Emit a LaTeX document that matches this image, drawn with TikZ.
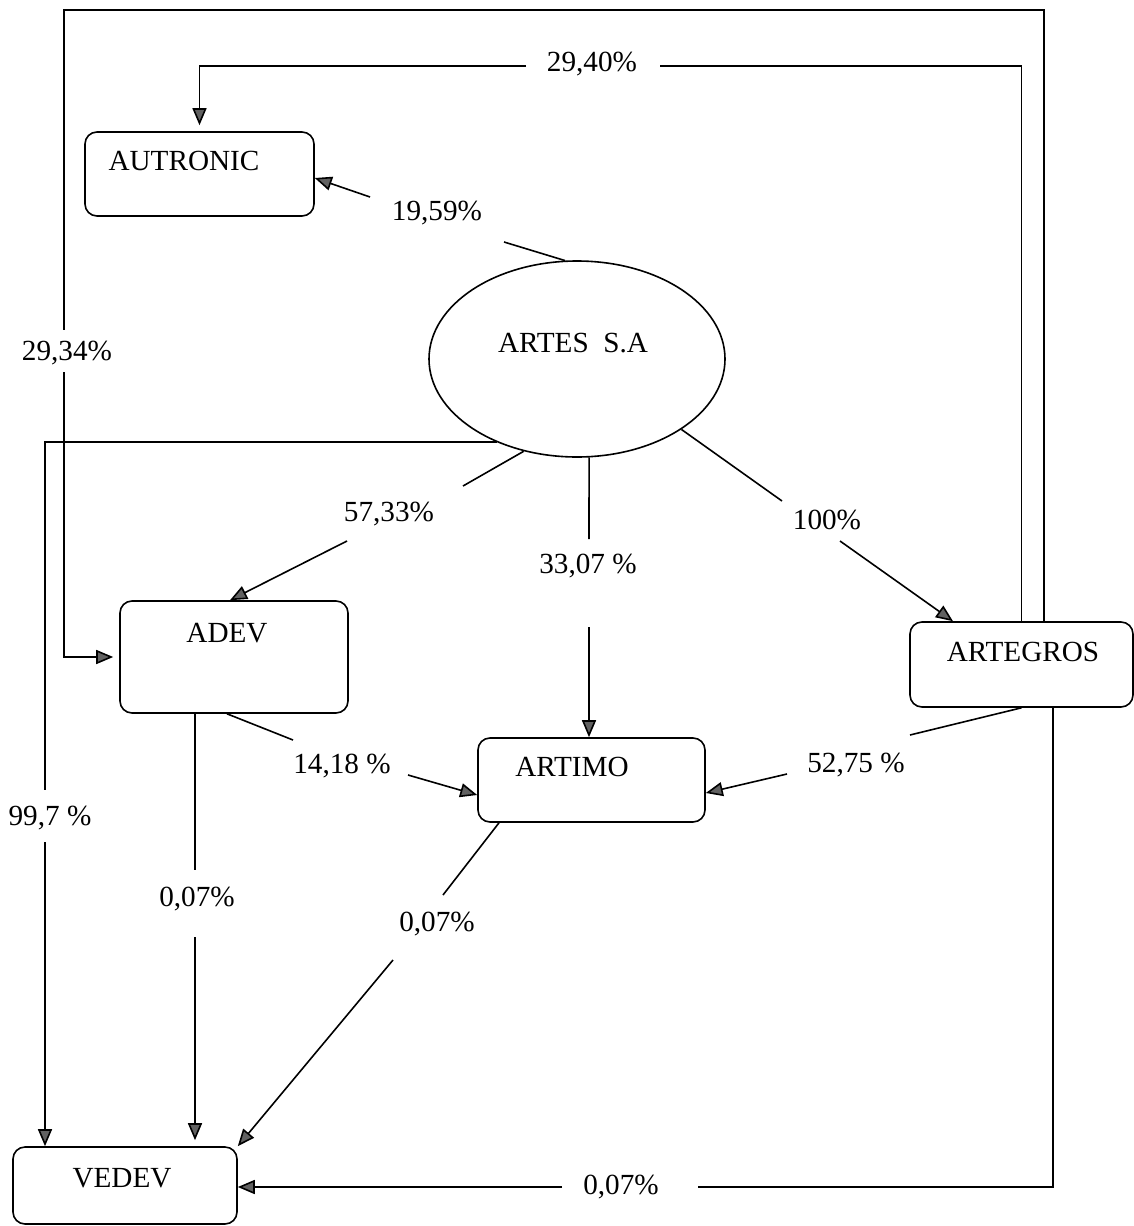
\documentclass[tikz,border=0pt]{standalone}
\usepackage{fontspec}
\setmainfont{Liberation Serif}
\usetikzlibrary{shapes.geometric,arrows.meta,calc}
\begin{document}
\begin{tikzpicture}[x=0.5pt,y=-0.5pt,line width=0.8pt,
  box/.style={draw,rounded corners=6pt,inner sep=0pt},
  txt/.style={font=\fontsize{14.6}{17}\selectfont,inner sep=0pt,text height=9.9pt,text depth=0pt},
  arr/.style={-{Triangle[length=8.5pt,width=7pt,fill=black!62]}}
]
\useasboundingbox (0,0) rectangle (1134,1226);

% entities
\node[box,minimum width=114.5pt,minimum height=42pt] (autronic) at (199.5,174) {};
\node[txt] (autronicT) at (184,161) {AUTRONIC};
\node[draw,ellipse,minimum width=148pt,minimum height=98pt,inner sep=0pt] (artes) at (577,359) {};
\node[txt] (artesT) at (573,343) {ARTES\ \ S.A};
\node[box,minimum width=114pt,minimum height=56pt] (adev) at (234,657) {};
\node[txt] (adevT) at (227,633) {ADEV};
\node[box,minimum width=113.5pt,minimum height=42pt] (artimo) at (591.5,780) {};
\node[txt] (artimoT) at (572,767) {ARTIMO};
\node[box,minimum width=111.5pt,minimum height=42.5pt] (artegros) at (1021.5,664.5) {};
\node[txt] (artegrosT) at (1023,652) {ARTEGROS};
\node[box,minimum width=112pt,minimum height=38.5pt] (vedev) at (125,1185.5) {};
\node[txt] (vedevT) at (122,1178) {VEDEV};

% labels
\node[txt] (l2940) at (592,62) {29,40\%};
\node[txt] (l2934) at (67,351) {29,34\%};
\node[txt] (l1959) at (437,211) {19,59\%};
\node[txt] (l5733) at (389,512) {57,33\%};
\node[txt] (l3307) at (588,564) {33,07 \%};
\node[txt] (l100) at (827,520) {100\%};
\node[txt] (l997) at (50,816) {99,7 \%};
\node[txt] (l1418) at (342,764) {14,18 \%};
\node[txt] (l5275) at (856,763) {52,75 \%};
\node[txt] (l007a) at (197,897) {0,07\%};
\node[txt] (l007b) at (437,922) {0,07\%};
\node[txt] (l007c) at (621,1185) {0,07\%};

% free ends and bends
\coordinate (c2940r) at (660,66);
\coordinate (c2940l) at (526,66);
\coordinate (tr) at (1044,10);
\coordinate (tl) at (64,10);
\coordinate (c2934a) at (64,330);
\coordinate (c2934b) at (64,372);
\coordinate (c1959a) at (504,242);
\coordinate (c1959b) at (370,197);
\coordinate (c5733a) at (463,486);
\coordinate (c5733b) at (347,541);
\coordinate (c3307a) at (589,539);
\coordinate (c3307b) at (589,627);
\coordinate (c100a) at (782,501);
\coordinate (c100b) at (840,541);
\coordinate (c997a) at (45,790);
\coordinate (c997b) at (45,842);
\coordinate (c007aa) at (195,870);
\coordinate (c007ab) at (195,937);
\coordinate (c1418a) at (293,740);
\coordinate (c1418b) at (408,775);
\coordinate (c5275a) at (910,735);
\coordinate (c5275b) at (787,774);
\coordinate (c007ba) at (443,895);
\coordinate (c007bb) at (393,960);
\coordinate (c007ca) at (698,1187);
\coordinate (c007cb) at (562,1187);

% ARTEGROS -> AUTRONIC 29,40%
\draw (artegros.north) |- (c2940r);
\draw[arr] (c2940l) -| ([yshift=3pt]autronic.north);
% ARTEGROS -> ADEV 29,34%
\draw ([xshift=11.25pt]artegros.north) -- (tr) -- (tl) -- (c2934a);
\draw[arr] (c2934b) |- ([xshift=-3pt]adev.west);
% ARTES -> AUTRONIC 19,59%
\draw (artes.97) -- (c1959a);
\draw[arr] (c1959b) -- ([yshift=-2pt]autronic.east);
% ARTES -> ADEV 57,33%
\draw (artes.240) -- (c5733a);
\draw[arr] (c5733b) -- ([xshift=-2pt]adev.north);
% ARTES -> ARTIMO 33,07%
\draw (artes.277) -- (c3307a);
\draw[arr] (c3307b) -- (c3307b |- artimo.north);
% ARTES -> ARTEGROS 100%
\draw (artes.326) -- (c100a);
\draw[arr] (c100b) -- ([xshift=-34.25pt]artegros.north);
% ARTES -> VEDEV 99,7%
\draw (artes.226) -| (c997a);
\draw[arr] (c997b) -- (c997b |- vedev.north);
% ADEV -> VEDEV 0,07%
\draw ([xshift=-19.5pt]adev.south) -- (c007aa);
\draw[arr] (c007ab) -- ([yshift=3pt]c007ab |- vedev.north);
% ADEV -> ARTIMO 14,18%
\draw ([xshift=-3.5pt]adev.south) -- (c1418a);
\draw[arr] (c1418b) -- ([yshift=-7.5pt]artimo.west);
% ARTEGROS -> ARTIMO 52,75%
\draw (artegros.south) -- (c5275a);
\draw[arr] (c5275b) -- ([yshift=-6.5pt]artimo.east);
% ARTIMO -> VEDEV 0,07%
\draw ([xshift=-46.25pt]artimo.south) -- (c007ba);
\draw[arr] (c007bb) -- (vedev.north east);
% ARTEGROS -> VEDEV 0,07%
\draw ([xshift=15.75pt]artegros.south) |- (c007ca);
\draw[arr] (c007cb) -- (c007cb -| vedev.east);
\end{tikzpicture}
\end{document}
